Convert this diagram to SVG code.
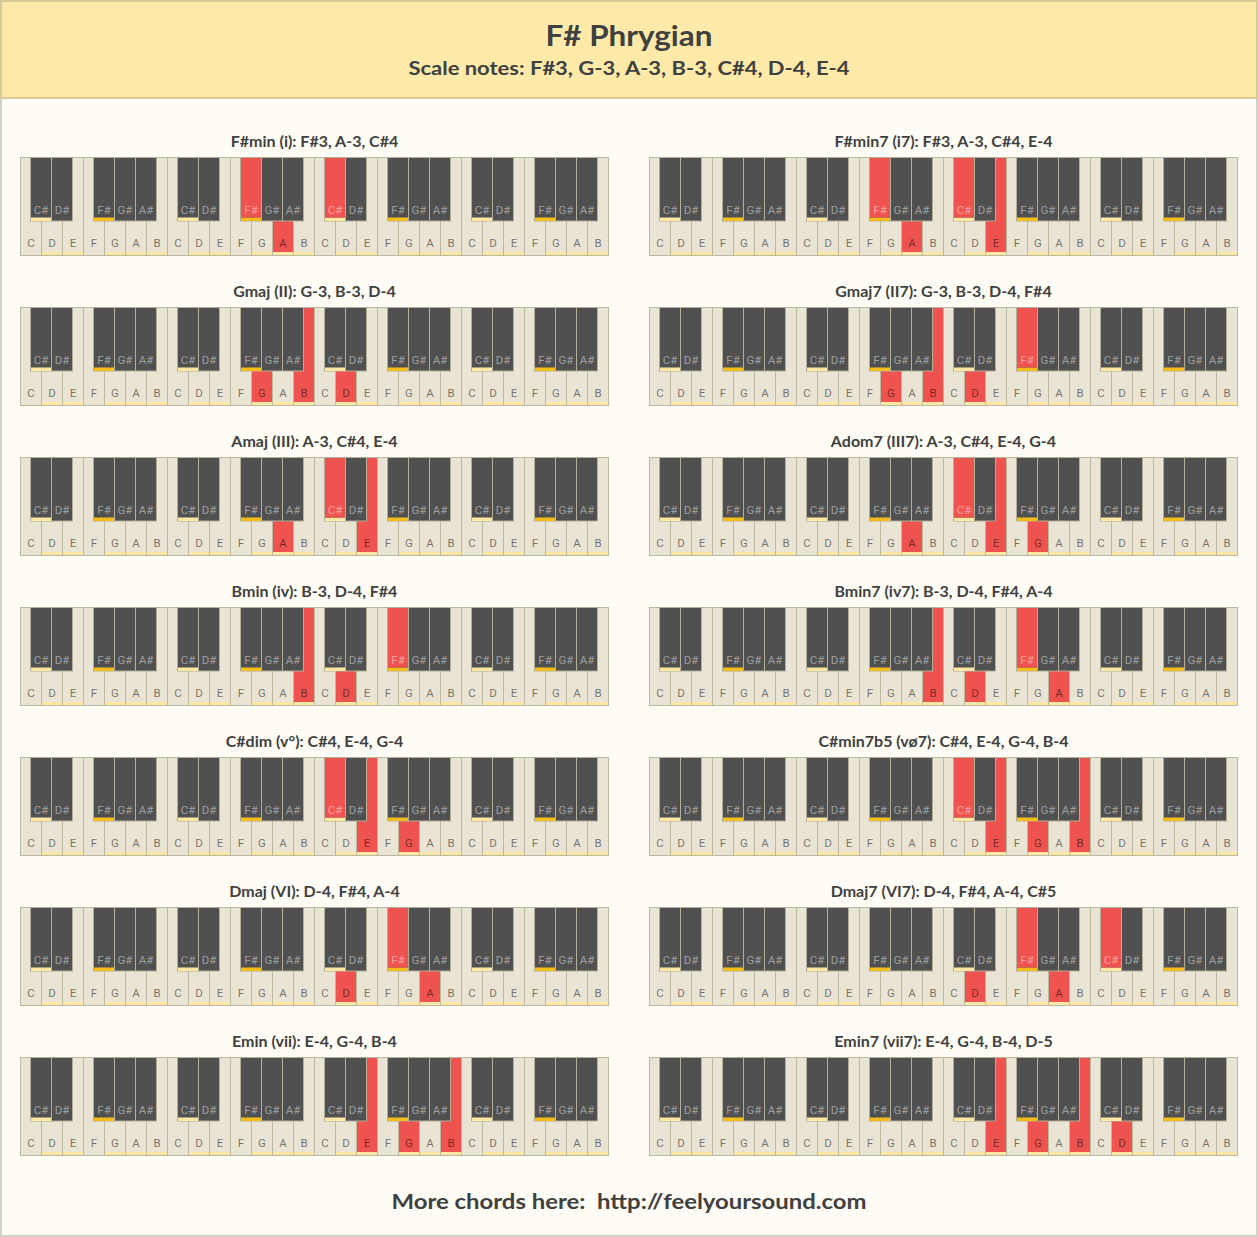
<svg xmlns="http://www.w3.org/2000/svg" xmlns:xlink="http://www.w3.org/1999/xlink" width="1258" height="1237" viewBox="0 0 1258 1237">
<style>
.w{fill:#e9e4d4;stroke:#bdb8a0;stroke-width:1}
.b{fill:#505050;stroke:#b3ae98;stroke-width:1}
.pb{fill:#fde7a5}
.yb{fill:#f4be1a}
.r{fill:#ef5350}
.wl{font-family:Roboto,"Liberation Sans",sans-serif;font-size:11.5px;fill:#000;fill-opacity:.5;text-anchor:middle}
.bl{font-family:Roboto,"Liberation Sans",sans-serif;font-size:11.5px;fill:#fff;fill-opacity:.45;text-anchor:middle}
.ct{font-family:Lato,"Open Sans",sans-serif;font-weight:bold;font-size:16px;fill:#404040;text-anchor:middle}
.hd{font-family:Lato,"Open Sans",sans-serif;font-weight:bold;fill:#404040;text-anchor:middle}
</style>
<defs>
<g id="octW">
<rect class="w" x="0" y="0" width="21" height="98"/><rect class="w" x="21" y="0" width="21" height="98"/><rect class="w" x="42" y="0" width="21" height="98"/><rect class="w" x="63" y="0" width="21" height="98"/><rect class="w" x="84" y="0" width="21" height="98"/><rect class="w" x="105" y="0" width="21" height="98"/><rect class="w" x="126" y="0" width="21" height="98"/>
<rect class="pb" x="21.5" y="94.5" width="20" height="3"/><rect class="pb" x="42.5" y="94.5" width="20" height="3"/><rect class="pb" x="84.5" y="94.5" width="20" height="3"/><rect class="pb" x="105.5" y="94.5" width="20" height="3"/><rect class="pb" x="126.5" y="94.5" width="20" height="3"/>
<text class="wl" x="10.5" y="89">C</text><text class="wl" x="31.5" y="89">D</text><text class="wl" x="52.5" y="89">E</text><text class="wl" x="73.5" y="89">F</text><text class="wl" x="94.5" y="89">G</text><text class="wl" x="115.5" y="89">A</text><text class="wl" x="136.5" y="89">B</text>
</g>
<g id="octB">
<rect class="b" x="10" y="0" width="21" height="63.5"/><rect class="b" x="31" y="0" width="21" height="63.5"/><rect class="b" x="73" y="0" width="21" height="63.5"/><rect class="b" x="94" y="0" width="21" height="63.5"/><rect class="b" x="115" y="0" width="21" height="63.5"/>
<rect class="pb" x="10.5" y="60" width="20" height="3.5"/><rect class="yb" x="73.5" y="60" width="20" height="3.5"/>
<text class="bl" x="20.5" y="56.5">C#</text><text class="bl" x="41.5" y="56.5">D#</text><text class="bl" x="83.5" y="56.5">F#</text><text class="bl" x="104.5" y="56.5">G#</text><text class="bl" x="125.5" y="56.5">A#</text>
</g>
<g id="whites"><use xlink:href="#octW"/><use xlink:href="#octW" x="147"/><use xlink:href="#octW" x="294"/><use xlink:href="#octW" x="441"/></g>
<g id="blacks"><use xlink:href="#octB"/><use xlink:href="#octB" x="147"/><use xlink:href="#octB" x="294"/><use xlink:href="#octB" x="441"/></g>
</defs>
<rect x="1" y="1" width="1256" height="1235" fill="#fffcf5" stroke="#d3d0c6" stroke-width="2"/>
<g id="header">
<rect x="1" y="1" width="1256" height="97" fill="#fdeaa9" stroke="#d6ca9a" stroke-width="2"/>
<text class="hd" x="629" y="46" font-size="29" textLength="167" lengthAdjust="spacingAndGlyphs">F# Phrygian</text>
<text class="hd" x="629" y="75" font-size="19" textLength="441" lengthAdjust="spacingAndGlyphs">Scale notes: F#3, G-3, A-3, B-3, C#4, D-4, E-4</text>
</g>
<g id="connectors"/>

<g id="chord-fsmin" transform="translate(20.5,157.5)">
<text class="ct" x="294" y="-11">F#min (i): F#3, A-3, C#4</text>
<use xlink:href="#whites"/>
<rect class="r" x="252.5" y="0.5" width="20" height="94"/><text class="wl" x="262.5" y="89">A</text>
<use xlink:href="#blacks"/>
<rect class="r" x="220.5" y="0.5" width="20" height="59.5"/><text class="bl" x="230.5" y="56.5">F#</text>
<rect class="r" x="304.5" y="0.5" width="20" height="59.5"/><text class="bl" x="314.5" y="56.5">C#</text>
</g>

<g id="chord-fsmin7" transform="translate(649.5,157.5)">
<text class="ct" x="294" y="-11">F#min7 (i7): F#3, A-3, C#4, E-4</text>
<use xlink:href="#whites"/>
<rect class="r" x="252.5" y="0.5" width="20" height="94"/><text class="wl" x="262.5" y="89">A</text>
<rect class="r" x="336.5" y="0.5" width="20" height="94"/><text class="wl" x="346.5" y="89">E</text>
<use xlink:href="#blacks"/>
<rect class="r" x="220.5" y="0.5" width="20" height="59.5"/><text class="bl" x="230.5" y="56.5">F#</text>
<rect class="r" x="304.5" y="0.5" width="20" height="59.5"/><text class="bl" x="314.5" y="56.5">C#</text>
</g>

<g id="chord-gmaj" transform="translate(20.5,307.5)">
<text class="ct" x="294" y="-11">Gmaj (II): G-3, B-3, D-4</text>
<use xlink:href="#whites"/>
<rect class="r" x="231.5" y="0.5" width="20" height="94"/><text class="wl" x="241.5" y="89">G</text>
<rect class="r" x="273.5" y="0.5" width="20" height="94"/><text class="wl" x="283.5" y="89">B</text>
<rect class="r" x="315.5" y="0.5" width="20" height="94"/><text class="wl" x="325.5" y="89">D</text>
<use xlink:href="#blacks"/>
</g>

<g id="chord-gmaj7" transform="translate(649.5,307.5)">
<text class="ct" x="294" y="-11">Gmaj7 (II7): G-3, B-3, D-4, F#4</text>
<use xlink:href="#whites"/>
<rect class="r" x="231.5" y="0.5" width="20" height="94"/><text class="wl" x="241.5" y="89">G</text>
<rect class="r" x="273.5" y="0.5" width="20" height="94"/><text class="wl" x="283.5" y="89">B</text>
<rect class="r" x="315.5" y="0.5" width="20" height="94"/><text class="wl" x="325.5" y="89">D</text>
<use xlink:href="#blacks"/>
<rect class="r" x="367.5" y="0.5" width="20" height="59.5"/><text class="bl" x="377.5" y="56.5">F#</text>
</g>

<g id="chord-amaj" transform="translate(20.5,457.5)">
<text class="ct" x="294" y="-11">Amaj (III): A-3, C#4, E-4</text>
<use xlink:href="#whites"/>
<rect class="r" x="252.5" y="0.5" width="20" height="94"/><text class="wl" x="262.5" y="89">A</text>
<rect class="r" x="336.5" y="0.5" width="20" height="94"/><text class="wl" x="346.5" y="89">E</text>
<use xlink:href="#blacks"/>
<rect class="r" x="304.5" y="0.5" width="20" height="59.5"/><text class="bl" x="314.5" y="56.5">C#</text>
</g>

<g id="chord-adom7" transform="translate(649.5,457.5)">
<text class="ct" x="294" y="-11">Adom7 (III7): A-3, C#4, E-4, G-4</text>
<use xlink:href="#whites"/>
<rect class="r" x="252.5" y="0.5" width="20" height="94"/><text class="wl" x="262.5" y="89">A</text>
<rect class="r" x="336.5" y="0.5" width="20" height="94"/><text class="wl" x="346.5" y="89">E</text>
<rect class="r" x="378.5" y="0.5" width="20" height="94"/><text class="wl" x="388.5" y="89">G</text>
<use xlink:href="#blacks"/>
<rect class="r" x="304.5" y="0.5" width="20" height="59.5"/><text class="bl" x="314.5" y="56.5">C#</text>
</g>

<g id="chord-bmin" transform="translate(20.5,607.5)">
<text class="ct" x="294" y="-11">Bmin (iv): B-3, D-4, F#4</text>
<use xlink:href="#whites"/>
<rect class="r" x="273.5" y="0.5" width="20" height="94"/><text class="wl" x="283.5" y="89">B</text>
<rect class="r" x="315.5" y="0.5" width="20" height="94"/><text class="wl" x="325.5" y="89">D</text>
<use xlink:href="#blacks"/>
<rect class="r" x="367.5" y="0.5" width="20" height="59.5"/><text class="bl" x="377.5" y="56.5">F#</text>
</g>

<g id="chord-bmin7" transform="translate(649.5,607.5)">
<text class="ct" x="294" y="-11">Bmin7 (iv7): B-3, D-4, F#4, A-4</text>
<use xlink:href="#whites"/>
<rect class="r" x="273.5" y="0.5" width="20" height="94"/><text class="wl" x="283.5" y="89">B</text>
<rect class="r" x="315.5" y="0.5" width="20" height="94"/><text class="wl" x="325.5" y="89">D</text>
<rect class="r" x="399.5" y="0.5" width="20" height="94"/><text class="wl" x="409.5" y="89">A</text>
<use xlink:href="#blacks"/>
<rect class="r" x="367.5" y="0.5" width="20" height="59.5"/><text class="bl" x="377.5" y="56.5">F#</text>
</g>

<g id="chord-csdim" transform="translate(20.5,757.5)">
<text class="ct" x="294" y="-11">C#dim (v°): C#4, E-4, G-4</text>
<use xlink:href="#whites"/>
<rect class="r" x="336.5" y="0.5" width="20" height="94"/><text class="wl" x="346.5" y="89">E</text>
<rect class="r" x="378.5" y="0.5" width="20" height="94"/><text class="wl" x="388.5" y="89">G</text>
<use xlink:href="#blacks"/>
<rect class="r" x="304.5" y="0.5" width="20" height="59.5"/><text class="bl" x="314.5" y="56.5">C#</text>
</g>

<g id="chord-csmin7b5" transform="translate(649.5,757.5)">
<text class="ct" x="294" y="-11">C#min7b5 (vø7): C#4, E-4, G-4, B-4</text>
<use xlink:href="#whites"/>
<rect class="r" x="336.5" y="0.5" width="20" height="94"/><text class="wl" x="346.5" y="89">E</text>
<rect class="r" x="378.5" y="0.5" width="20" height="94"/><text class="wl" x="388.5" y="89">G</text>
<rect class="r" x="420.5" y="0.5" width="20" height="94"/><text class="wl" x="430.5" y="89">B</text>
<use xlink:href="#blacks"/>
<rect class="r" x="304.5" y="0.5" width="20" height="59.5"/><text class="bl" x="314.5" y="56.5">C#</text>
</g>

<g id="chord-dmaj" transform="translate(20.5,907.5)">
<text class="ct" x="294" y="-11">Dmaj (VI): D-4, F#4, A-4</text>
<use xlink:href="#whites"/>
<rect class="r" x="315.5" y="0.5" width="20" height="94"/><text class="wl" x="325.5" y="89">D</text>
<rect class="r" x="399.5" y="0.5" width="20" height="94"/><text class="wl" x="409.5" y="89">A</text>
<use xlink:href="#blacks"/>
<rect class="r" x="367.5" y="0.5" width="20" height="59.5"/><text class="bl" x="377.5" y="56.5">F#</text>
</g>

<g id="chord-dmaj7" transform="translate(649.5,907.5)">
<text class="ct" x="294" y="-11">Dmaj7 (VI7): D-4, F#4, A-4, C#5</text>
<use xlink:href="#whites"/>
<rect class="r" x="315.5" y="0.5" width="20" height="94"/><text class="wl" x="325.5" y="89">D</text>
<rect class="r" x="399.5" y="0.5" width="20" height="94"/><text class="wl" x="409.5" y="89">A</text>
<use xlink:href="#blacks"/>
<rect class="r" x="367.5" y="0.5" width="20" height="59.5"/><text class="bl" x="377.5" y="56.5">F#</text>
<rect class="r" x="451.5" y="0.5" width="20" height="59.5"/><text class="bl" x="461.5" y="56.5">C#</text>
</g>

<g id="chord-emin" transform="translate(20.5,1057.5)">
<text class="ct" x="294" y="-11">Emin (vii): E-4, G-4, B-4</text>
<use xlink:href="#whites"/>
<rect class="r" x="336.5" y="0.5" width="20" height="94"/><text class="wl" x="346.5" y="89">E</text>
<rect class="r" x="378.5" y="0.5" width="20" height="94"/><text class="wl" x="388.5" y="89">G</text>
<rect class="r" x="420.5" y="0.5" width="20" height="94"/><text class="wl" x="430.5" y="89">B</text>
<use xlink:href="#blacks"/>
</g>

<g id="chord-emin7" transform="translate(649.5,1057.5)">
<text class="ct" x="294" y="-11">Emin7 (vii7): E-4, G-4, B-4, D-5</text>
<use xlink:href="#whites"/>
<rect class="r" x="336.5" y="0.5" width="20" height="94"/><text class="wl" x="346.5" y="89">E</text>
<rect class="r" x="378.5" y="0.5" width="20" height="94"/><text class="wl" x="388.5" y="89">G</text>
<rect class="r" x="420.5" y="0.5" width="20" height="94"/><text class="wl" x="430.5" y="89">B</text>
<rect class="r" x="462.5" y="0.5" width="20" height="94"/><text class="wl" x="472.5" y="89">D</text>
<use xlink:href="#blacks"/>
</g>

<g id="footer">
<text class="hd" x="629" y="1209" font-size="21" textLength="475" lengthAdjust="spacingAndGlyphs" xml:space="preserve">More chords here:  http://feelyoursound.com</text>
</g>
</svg>
